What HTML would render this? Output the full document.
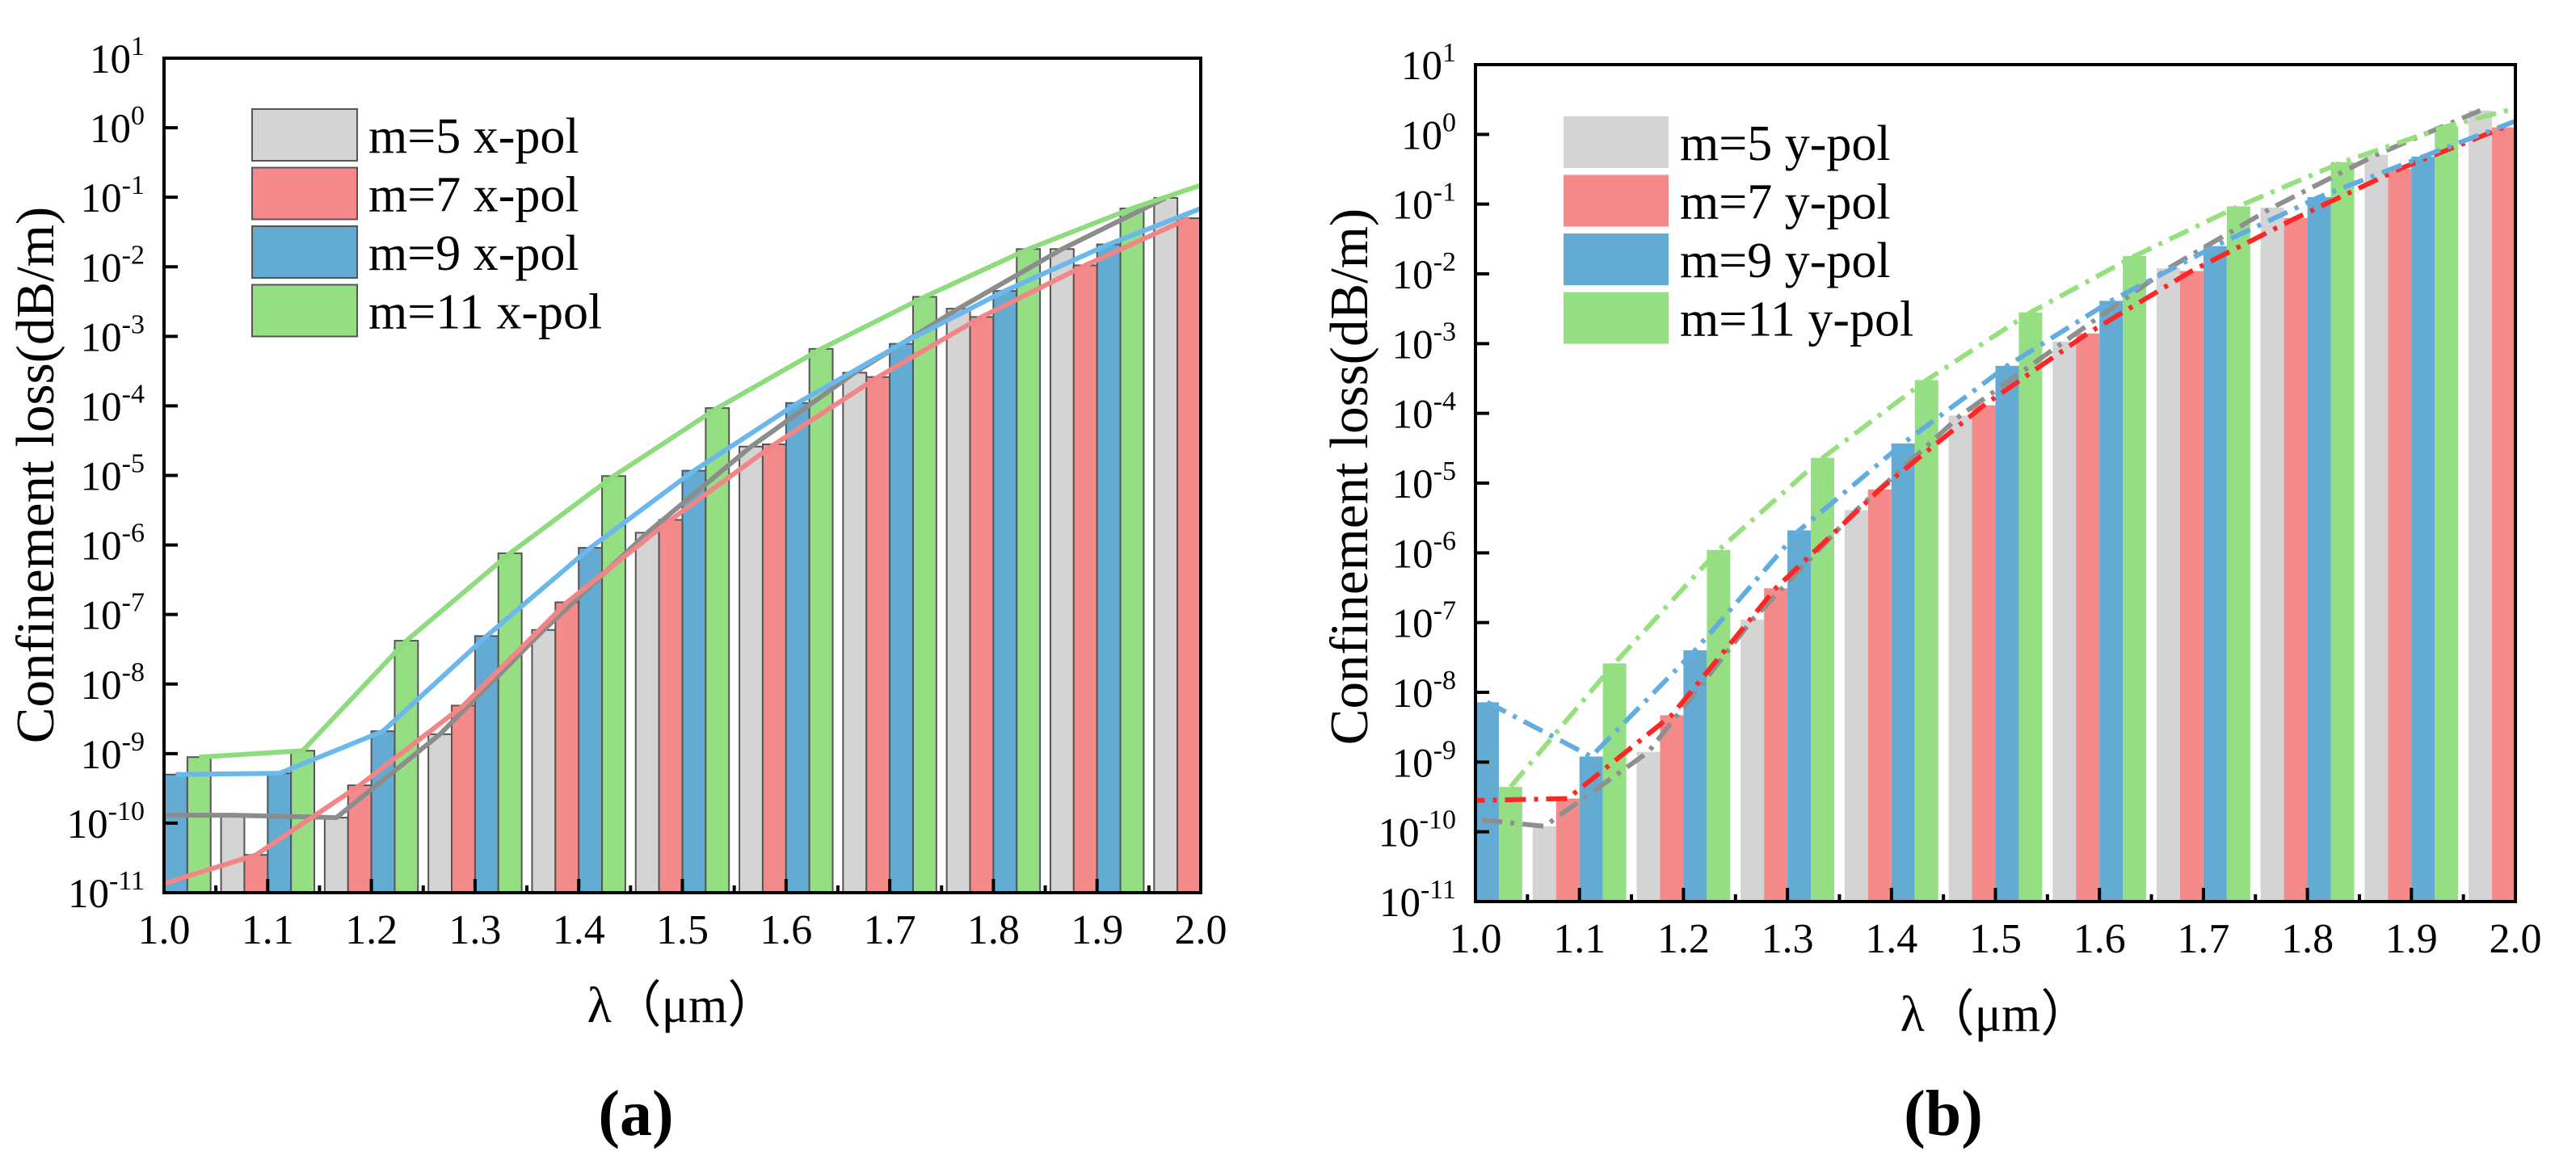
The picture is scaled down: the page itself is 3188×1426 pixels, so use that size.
<!DOCTYPE html>
<html><head><meta charset="utf-8"><style>
html,body{margin:0;padding:0;background:#fff}
svg{display:block;font-family:"Liberation Serif",serif}
</style></head><body>
<svg id="fig" width="3188" height="1426" viewBox="0 0 3188 1426"></svg>
<script>
const wavelengths=[1.0,1.1,1.2,1.3,1.4,1.5,1.6,1.7,1.8,1.9,2.0];
const xTickLabels=["1.0","1.1","1.2","1.3","1.4","1.5","1.6","1.7","1.8","1.9","2.0"];
const yTickExps=[-11,-10,-9,-8,-7,-6,-5,-4,-3,-2,-1,0,1];
const aGray=[1.3e-10,1.3e-10,1.2e-10,1.9e-9,6e-8,1.5e-6,2.6e-5,3e-4,2.5e-3,1.8e-2,9.8e-2];
const aRed=[1.2e-11,3.5e-11,3.5e-10,4.9e-9,1.5e-7,2.3e-6,2.8e-5,2.6e-4,1.9e-3,1.05e-2,5e-2];
const aBlue=[5e-10,5.2e-10,2.1e-9,4.9e-8,9.1e-7,1.17e-5,1.1e-4,7.8e-4,4.5e-3,2.1e-2,8e-2];
const aGreen=[8.9e-10,1.1e-9,4.2e-8,7.6e-7,9.8e-6,9.3e-5,6.6e-4,3.7e-3,1.8e-2,6.9e-2,2.2e-1];
const bGray=[1.7e-10,1.2e-10,1.4e-9,1.1e-7,4.1e-6,9.3e-5,1.07e-3,1.2e-2,8.9e-2,5.1e-1,2.2];
const bRed=[2.8e-10,3e-10,4.7e-9,3.1e-7,8.1e-6,1.3e-4,1.4e-3,1.1e-2,6.3e-2,3.2e-1,1.26];
const bBlue=[7.2e-9,1.2e-9,4e-8,2.1e-6,3.7e-5,4.8e-4,4.1e-3,2.5e-2,1.26e-1,4.8e-1,1.8];
const bGreen=[4.4e-10,2.6e-8,1.1e-6,2.3e-5,3e-4,2.8e-3,1.8e-2,9.3e-2,4e-1,1.3,3.2];
const legendA=["m=5 x-pol","m=7 x-pol","m=9 x-pol","m=11 x-pol"];
const legendB=["m=5 y-pol","m=7 y-pol","m=9 y-pol","m=11 y-pol"];

const NS="http://www.w3.org/2000/svg";
const svg=document.getElementById('fig');
function mk(tag,attrs,parent){const e=document.createElementNS(NS,tag);for(const k in attrs)e.setAttribute(k,attrs[k]);(parent||svg).appendChild(e);return e;}
const barColors=["#d4d4d4","#f58a8a","#63abd3","#95de84"];
const lineColorsA=["#8c8c8c","#f28585","#6ab8ec","#8edc7e"];
const lineColorsB=["#8f8f8f","#ff2626","#62ade0","#96e07e"];
const names=["m5","m7","m9","m11"];

function chart(id,L,R,T,B,series,legend,legX,legY,dashed,outline,titleX,titleY){
  const g=mk('g',{});
  
  
  const xs=v=>L+(v-1.0)/(1.0)*(R-L);
  const ys=v=>B-(Math.log10(v)+11)/12*(B-T);
  const clip=mk('clipPath',{id:'clip-'+id},g);
  mk('rect',{x:L,y:T,width:R-L,height:B-T},clip);
  const plot=mk('g',{'clip-path':'url(#clip-'+id+')'},g);
  const w=0.0225;
  series.forEach((vals,si)=>{
    const off=(si-1.5)*w;
    vals.forEach((v,i)=>{
      const x0=xs(wavelengths[i]+off-w/2),x1=xs(wavelengths[i]+off+w/2);
      const r=mk('rect',{x:x0,y:ys(v),width:x1-x0,height:B-ys(v),fill:barColors[si]},plot);
      if(outline){r.setAttribute('stroke','#555');r.setAttribute('stroke-width','2');}
      
      
    });
  });
  series.forEach((vals,si)=>{
    const off=(si-1.5)*w;
    const pts=vals.map((v,i)=>xs(wavelengths[i]+off).toFixed(1)+','+ys(v).toFixed(1)).join(' ');
    const p=mk('polyline',{points:pts,fill:'none',stroke:(dashed?lineColorsB:lineColorsA)[si],'stroke-width':6,'stroke-linejoin':'round'},plot);
    if(dashed)p.setAttribute('stroke-dasharray','26 10 5 10');
    
    
  });
  const fr=mk('rect',{x:L,y:T,width:R-L,height:B-T,fill:'none',stroke:'#000','stroke-width':4},g);
  
  
  wavelengths.forEach((v,i)=>{
    mk('line',{x1:xs(v),x2:xs(v),y1:B,y2:B-17,stroke:'#000','stroke-width':4},g);
    if(i<wavelengths.length-1)mk('line',{x1:xs(v+0.05),x2:xs(v+0.05),y1:B,y2:B-9,stroke:'#000','stroke-width':4},g);
    const t=mk('text',{x:xs(v),y:B+63,'text-anchor':'middle','font-size':52},g);
    t.textContent=xTickLabels[i];
    
    
  });
  yTickExps.forEach(e=>{
    const y=ys(Math.pow(10,e));
    mk('line',{x1:L,x2:L+17,y1:y,y2:y,stroke:'#000','stroke-width':4},g);
    const t=mk('text',{x:L-24,y:y+18,'text-anchor':'end','font-size':51},g);
    
    
    const a=mk('tspan',{},t);a.textContent='10';
    const b=mk('tspan',{dy:-22,'font-size':34},t);b.textContent=String(e);
  });
  const xt=mk('text',{x:(L+R)/2,y:B+160,'text-anchor':'middle','font-size':62},g);
  xt.textContent='λ（μm）';
  
  
  const yt=mk('text',{x:0,y:0,'text-anchor':'middle','font-size':67,transform:`translate(${titleX},${titleY}) rotate(-90)`},g);
  yt.textContent='Confinement loss(dB/m)';
  
  
  legend.forEach((s,i)=>{
    const by=legY+i*72.5;
    const r=mk('rect',{x:legX,y:by,width:130,height:64,fill:barColors[i]},g);
    if(outline){r.setAttribute('stroke','#555');r.setAttribute('stroke-width','2');}
    
    
    const t=mk('text',{x:legX+144,y:by+54,'font-size':62},g);
    t.textContent=s;
    
    
  });
}
chart('a',203,1486,72,1105,[aGray,aRed,aBlue,aGreen],legendA,312,135,false,true,66,588);
chart('b',1826,3113,80,1116,[bGray,bRed,bBlue,bGreen],legendB,1935,144,true,false,1692,590);
const la=mk('text',{x:787,y:1405,'text-anchor':'middle','font-size':80,'font-weight':'bold'});
la.textContent='(a)';


const lb=mk('text',{x:2405,y:1405,'text-anchor':'middle','font-size':80,'font-weight':'bold'});
lb.textContent='(b)';


</script>
</body></html>
